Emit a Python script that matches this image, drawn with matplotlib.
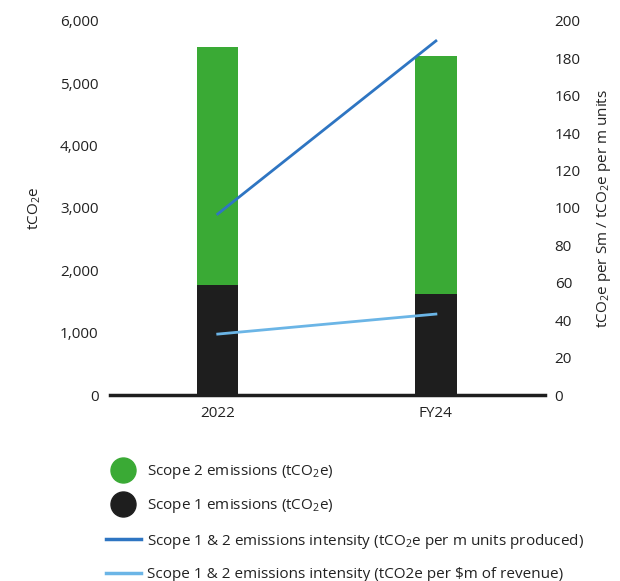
import numpy as np
import matplotlib
matplotlib.use('Agg')
import matplotlib.pyplot as plt
from matplotlib.lines import Line2D

plt.rcParams['font.family'] = ['Open Sans', 'DejaVu Sans']
plt.rcParams['mathtext.default'] = 'regular'

# --- Data
years = ['2022', 'FY24']
scope1 = [1765, 1620]
scope2 = [3818, 3819]
intensity_units = [96.8, 189.3]
intensity_revenue = [32.6, 43.3]

c_green = '#3aaa35'
c_black = '#1e1e1e'
c_dblue = '#2e75c2'
c_lblue = '#6bb5e6'
c_text = '#222222'

fig = plt.figure(figsize=(6.2, 5.81), dpi=100)
ax = fig.add_axes([0.177, 0.320, 0.702, 0.644])
ax2 = ax.twinx()

x = np.arange(len(years))
ax.bar(x, scope1, width=0.19, color=c_black, zorder=2)
ax.bar(x, scope2, width=0.19, bottom=scope1, color=c_green, zorder=2)

ax2.plot(x, intensity_units, color=c_dblue, lw=2)
ax2.plot(x, intensity_revenue, color=c_lblue, lw=2)

ax.set_xlim(-0.495, 1.5)
ax.set_ylim(0, 6000)
ax2.set_ylim(0, 200)
ax.set_yticks(range(0, 6001, 1000))
ax.set_yticklabels([f'{v:,}' for v in range(0, 6001, 1000)])
ax2.set_yticks(range(0, 201, 20))
ax.set_xticks(x)
ax.set_xticklabels(years)

for a in (ax, ax2):
    for s in ['top', 'left', 'right', 'bottom']:
        a.spines[s].set_visible(False)
    a.tick_params(length=0, labelsize=11, colors=c_text)
ax.tick_params(axis='y', pad=8)
ax2.tick_params(axis='y', pad=7)
ax.tick_params(axis='x', pad=8)
ax.axhline(0, color=c_black, lw=2.5, zorder=3, clip_on=False)

ax.set_ylabel('tCO$_2$e', fontsize=11, color=c_text, labelpad=12)
ax2.set_ylabel('tCO$_2$e per Sm / tCO$_2$e per m units', fontsize=11,
               color=c_text, labelpad=10)

handles = [
    Line2D([], [], marker='o', ls='None', ms=18, color=c_green),
    Line2D([], [], marker='o', ls='None', ms=18, color=c_black),
    Line2D([], [], color=c_dblue, lw=2.5),
    Line2D([], [], color=c_lblue, lw=2.5),
]
labels = [
    'Scope 2 emissions (tCO$_2$e)',
    'Scope 1 emissions (tCO$_2$e)',
    'Scope 1 & 2 emissions intensity (tCO$_2$e per m units produced)',
    'Scope 1 & 2 emissions intensity (tCO2e per $m of revenue)',
]
leg = fig.legend(handles, labels, loc='upper left', bbox_to_anchor=(0.158, 0.216),
                 frameon=False, fontsize=11, handlelength=2.3, handletextpad=0.4,
                 labelspacing=1.07, labelcolor=c_text, borderpad=0)

fig.savefig('out.png', dpi=100)
